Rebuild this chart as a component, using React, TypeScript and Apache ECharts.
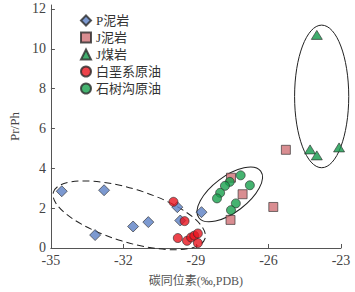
import React, { useEffect, useRef } from "react";
import * as echarts from "echarts";

const seriesNames = ["P泥岩", "J泥岩", "J煤岩", "白垩系原油", "石树沟原油"];

const pMudX = [-34.55, -32.8, -33.17, -31.6, -30.97, -29.77, -29.65, -28.77];
const pMudY = [2.85, 2.9, 0.65, 1.08, 1.3, 2.05, 1.38, 1.8];

const jMudX = [-27.55, -27.07, -27.57, -25.28, -25.8];
const jMudY = [3.53, 2.7, 1.41, 4.93, 2.06];

const jCoalX = [-24.0, -24.28, -24.0, -23.08];
const jCoalY = [10.7, 4.95, 4.65, 5.05];

const cretX = [-29.93, -29.47, -29.75, -29.37, -29.2, -29.07, -28.92, -28.92];
const cretY = [2.32, 1.35, 0.5, 0.36, 0.53, 0.62, 0.73, 0.25];

const sskX = [-27.15, -27.6, -27.8, -28.0, -28.13, -26.77, -27.35, -27.55];
const sskY = [3.65, 3.32, 3.12, 2.77, 2.49, 3.15, 2.24, 1.9];

const xTicks = [-35, -32, -29, -26, -23];
const yTicks = [0, 2, 4, 6, 8, 10, 12];

// ellipses: center x, center y, radius (x units), radius (y units), rotation deg, dashed
const ellipseCX = [-31.76, -27.6, -23.8];
const ellipseCY = [1.64, 2.69, 7.61];
const ellipseRX = [3.28, 1.6, 1.12];
const ellipseRY = [1.34, 0.9, 3.58];
const ellipseRot = [-17, 37, 0];
const ellipseDash = [1, 0, 0];

const zip = (xs: number[], ys: number[]) => xs.map((x, i) => [x, ys[i]]);

const serif = "'Liberation Serif', 'Noto Sans CJK SC', serif";

export default function App() {
  const ref = useRef<HTMLDivElement>(null);
  useEffect(() => {
    if (!ref.current) return;
    const chart = echarts.init(ref.current, null, { renderer: "svg" });
    const border = { borderColor: "#2a2a2a", borderWidth: 0.8 };
    chart.setOption({
      animation: false,
      backgroundColor: "#fff",
      grid: { left: 41, right: 14, top: 5, bottom: 42 },
      legend: {
        data: seriesNames,
        orient: "vertical",
        left: 75,
        top: 9,
        itemWidth: 10,
        itemHeight: 10,
        itemGap: 4,
        textStyle: { fontFamily: serif, fontSize: 13, lineHeight: 13, color: "#333" },
      },
      xAxis: {
        type: "value",
        min: -35,
        max: -23,
        name: "碳同位素(‰,PDB)",
        nameLocation: "middle",
        nameGap: 27,
        nameTextStyle: { fontFamily: serif, fontSize: 12, color: "#555" },
        splitLine: { show: false },
        axisLine: { show: true, lineStyle: { color: "#555", width: 1 } },
        axisTick: { show: true, inside: true, length: 4, customValues: xTicks, lineStyle: { color: "#555" } },
        axisLabel: { customValues: xTicks, fontFamily: serif, fontSize: 14, color: "#444", margin: 6 },
      },
      yAxis: {
        type: "value",
        min: 0,
        max: 12.2,
        name: "Pr/Ph",
        nameLocation: "middle",
        nameGap: 22,
        nameTextStyle: { fontFamily: serif, fontSize: 13, color: "#444" },
        splitLine: { show: false },
        axisLine: { show: true, lineStyle: { color: "#555", width: 1 } },
        axisTick: { show: true, inside: true, length: 4, customValues: yTicks, lineStyle: { color: "#555" } },
        axisLabel: { customValues: yTicks, fontFamily: serif, fontSize: 14, color: "#444", margin: 5 },
      },
      series: [
        {
          type: "custom",
          name: "ellipses",
          clip: false,
          z: 1,
          data: ellipseCX.map((x, i) => [x, ellipseCY[i], ellipseRX[i], ellipseRY[i], ellipseRot[i], ellipseDash[i]]),
          renderItem: (params: any, api: any) => {
            const c = api.coord([api.value(0), api.value(1)]);
            const s = api.size([api.value(2), api.value(3)]);
            return {
              type: "ellipse",
              x: c[0],
              y: c[1],
              rotation: (api.value(4) * Math.PI) / 180,
              shape: { cx: 0, cy: 0, rx: s[0], ry: s[1] },
              style: {
                fill: "none",
                stroke: "#222",
                lineWidth: 1,
                lineDash: api.value(5) ? [7, 4] : null,
              },
            };
          },
        },
        {
          name: seriesNames[0],
          type: "scatter",
          symbol: "diamond",
          symbolSize: 11,
          z: 3,
          itemStyle: { color: "#5b80c4", ...border },
          data: zip(pMudX, pMudY),
        },
        {
          name: seriesNames[1],
          type: "scatter",
          symbol: "rect",
          symbolSize: 9,
          z: 3,
          itemStyle: { color: "#cf7176", ...border },
          data: zip(jMudX, jMudY),
        },
        {
          name: seriesNames[2],
          type: "scatter",
          symbol: "triangle",
          symbolSize: [11, 9],
          z: 3,
          itemStyle: { color: "#12994a", ...border },
          data: zip(jCoalX, jCoalY),
        },
        {
          name: seriesNames[3],
          type: "scatter",
          symbol: "circle",
          symbolSize: 9,
          z: 4,
          itemStyle: { color: "#e8141e", ...border },
          data: zip(cretX, cretY),
        },
        {
          name: seriesNames[4],
          type: "scatter",
          symbol: "circle",
          symbolSize: 9,
          z: 4,
          itemStyle: { color: "#16a04c", ...border },
          data: zip(sskX, sskY),
        },
      ],
    });
    return () => chart.dispose();
  }, []);
  return (
    <div
      ref={ref}
      style={{ position: "absolute", left: 0, top: 0, width: 355, height: 292 }}
    />
  );
}
